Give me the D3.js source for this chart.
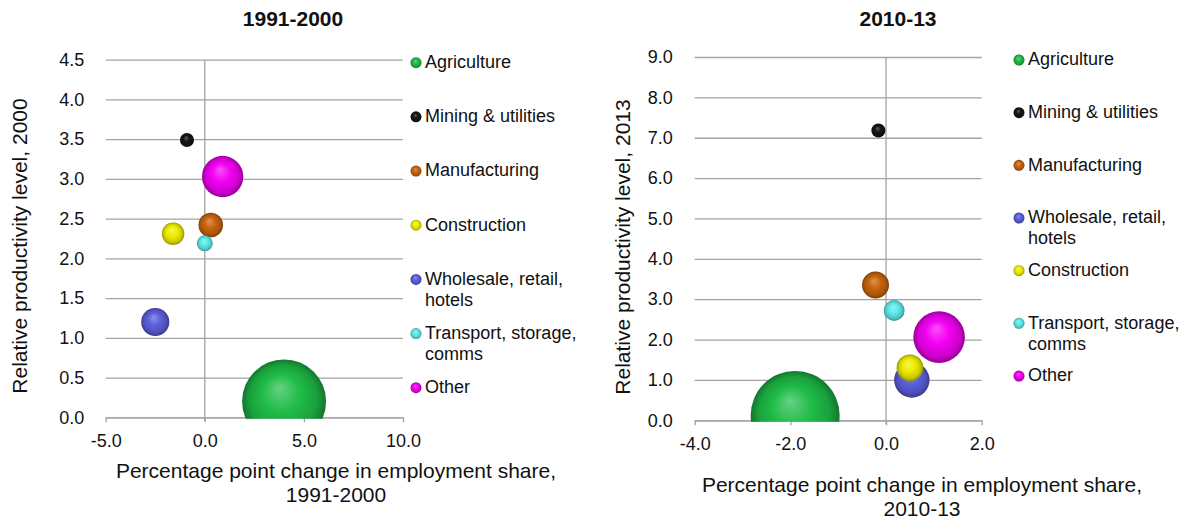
<!DOCTYPE html>
<html>
<head>
<meta charset="utf-8">
<script src="https://cdn.jsdelivr.net/npm/d3@7"></script>
<style>
  html, body { margin: 0; padding: 0; background: #fff; }
  svg { display: block; }
  text { font-family: "Liberation Sans", Arial, sans-serif; fill: #111; }
</style>
</head>
<body>
<svg id="chart" width="1192" height="519"></svg>
<script>
// ---------------- DATA ----------------
const sectors = ["Agriculture", "Mining & utilities", "Manufacturing", "Construction",
                 "Wholesale, retail, hotels", "Transport, storage, comms", "Other"];
const sectorColors = ["#1fbc48", "#141414", "#c8640e", "#eeee00", "#5b5fdc", "#5eeaea", "#f400f4"];

// Panel 1: 1991-2000
const change1991 = [4.0, -0.9, 0.3, -1.6, -2.5, 0.0, 0.9];
const level2000 = [0.2, 3.49, 2.42, 2.31, 1.2, 2.19, 3.03];
const size1991 = [50, 1.4, 4.3, 3.6, 5.6, 1.8, 12.1];
const order1991 = ["Agriculture", "Mining & utilities", "Manufacturing", "Construction",
                   "Wholesale, retail, hotels", "Transport, storage, comms", "Other"];
const xTicks1991 = [-5, 0, 5, 10];
const yTicks2000 = [0, 0.5, 1, 1.5, 2, 2.5, 3, 3.5, 4, 4.5];

// Panel 2: 2010-13
const change2010 = [-1.9, -0.16, -0.22, 0.5, 0.54, 0.17, 1.11];
const level2013 = [0.12, 7.18, 3.35, 1.3, 1.0, 2.72, 2.06];
const size2010 = [31, 0.77, 2.85, 2.8, 4.9, 1.7, 10.4];
const order2010 = ["Agriculture", "Mining & utilities", "Manufacturing",
                   "Wholesale, retail, hotels", "Construction", "Transport, storage, comms", "Other"];
const xTicks2010 = [-4, -2, 0, 2];
const yTicks2013 = [0, 1, 2, 3, 4, 5, 6, 7, 8, 9];

// ---------------- DRAWING ----------------
const svg = d3.select("#chart");
const defs = svg.append("defs");
const locale = d3.formatLocale({ decimal: ".", thousands: ",", grouping: [3], currency: ["", ""], minus: "-" });
const fmt = locale.format(".1f");
const gridColor = "#a3a3a3";

// sphere-like gradients
sectors.forEach((s, i) => {
  const base = d3.rgb(sectorColors[i]);
  const hi = d3.interpolateRgb(base, "#ffffff")(0.32);
  const g = defs.append("radialGradient")
    .attr("id", "grad" + i)
    .attr("cx", "50%").attr("cy", "50%").attr("r", "50%")
    .attr("fx", "44%").attr("fy", "33%");
  g.append("stop").attr("offset", "0%").attr("stop-color", hi);
  g.append("stop").attr("offset", "45%").attr("stop-color", base.formatHex());
  g.append("stop").attr("offset", "80%").attr("stop-color", base.darker(0.45).formatHex());
  g.append("stop").attr("offset", "100%").attr("stop-color", base.darker(1.3).formatHex());
});

function wrapText(textSel, maxW) {
  textSel.each(function () {
    const t = d3.select(this);
    const words = t.text().split(/\s+/);
    const x = t.attr("x");
    t.text(null);
    let line = [];
    let tspan = t.append("tspan").attr("x", x).attr("dy", "0.35em");
    words.forEach(w => {
      line.push(w);
      tspan.text(line.join(" "));
      if (tspan.node().getComputedTextLength() > maxW && line.length > 1) {
        line.pop();
        tspan.text(line.join(" "));
        line = [w];
        tspan = t.append("tspan").attr("x", x).attr("dy", "21px").text(w);
      }
    });
  });
}

function drawPanel(cfg) {
  const x = d3.scaleLinear().domain(cfg.xDomain).range(cfg.xRange);
  const y = d3.scaleLinear().domain(cfg.yDomain).range(cfg.yRange);
  const r = d3.scaleSqrt().domain([0, d3.max(cfg.size)]).range([0, cfg.maxR]);
  const g = svg.append("g");

  // title
  g.append("text").attr("x", cfg.titleX).attr("y", cfg.titleY)
    .attr("text-anchor", "middle").attr("font-size", 21).attr("font-weight", "bold")
    .text(cfg.title);

  // gridlines
  const grid = g.append("g").attr("transform", `translate(${cfg.xRange[0]},0)`)
    .call(d3.axisRight(y).tickValues(cfg.yTicks).tickSize(cfg.xRange[1] - cfg.xRange[0]).tickFormat(""));
  grid.select(".domain").remove();
  grid.selectAll("line").attr("stroke", gridColor).attr("stroke-width", 1.3);

  // y tick labels
  const ya = g.append("g").attr("transform", `translate(${cfg.xRange[0]},0)`)
    .call(d3.axisLeft(y).tickValues(cfg.yTicks).tickSize(0).tickPadding(cfg.yPad).tickFormat(fmt));
  ya.select(".domain").remove();
  ya.selectAll("text").attr("font-size", 18).attr("font-family", null).attr("fill", "#111");

  // vertical zero line
  g.append("line")
    .attr("x1", x(0)).attr("x2", x(0))
    .attr("y1", cfg.yRange[1]).attr("y2", cfg.yRange[0] + 4)
    .attr("stroke", gridColor).attr("stroke-width", 1.3);

  // x axis
  const xa = g.append("g").attr("transform", `translate(0,${y(0)})`)
    .call(d3.axisBottom(x).tickValues(cfg.xTicks).tickSize(5).tickSizeOuter(0).tickPadding(cfg.xPad).tickFormat(fmt));
  xa.select(".domain").attr("stroke", gridColor).attr("stroke-width", 1.3);
  xa.selectAll("line").attr("stroke", gridColor).attr("stroke-width", 1.3);
  xa.selectAll("text").attr("font-size", 18).attr("font-family", null).attr("fill", "#111");

  // clip
  const clipId = "clip" + cfg.id;
  defs.append("clipPath").attr("id", clipId).append("rect")
    .attr("x", cfg.xRange[0] - 60).attr("y", cfg.yRange[1] - 60)
    .attr("width", cfg.xRange[1] - cfg.xRange[0] + 120)
    .attr("height", cfg.yRange[0] - cfg.yRange[1] + 61.5);

  // bubbles
  const pts = cfg.order.map(name => {
    const i = sectors.indexOf(name);
    return { i, x: cfg.xv[i], y: cfg.yv[i], s: cfg.size[i] };
  });
  g.append("g").attr("clip-path", `url(#${clipId})`)
    .selectAll("circle").data(pts).join("circle")
    .attr("cx", d => x(d.x)).attr("cy", d => y(d.y)).attr("r", d => r(d.s))
    .attr("fill", d => `url(#grad${d.i})`);

  // axis titles
  g.append("text")
    .attr("transform", `translate(${cfg.yTitleX},${cfg.yTitleY}) rotate(-90)`)
    .attr("text-anchor", "middle").attr("font-size", 21)
    .text(cfg.yTitle);
  cfg.xTitle.forEach((t, k) => {
    g.append("text").attr("x", cfg.xTitleX).attr("y", cfg.xTitleY + k * 24)
      .attr("text-anchor", "middle").attr("font-size", 21).text(t);
  });

  // legend
  const lg = g.append("g");
  cfg.order.forEach((name, k) => {
    const i = sectors.indexOf(name);
    const cy = cfg.legendTop + k * cfg.legendStep;
    lg.append("circle").attr("cx", cfg.legendX).attr("cy", cy + 1).attr("r", 5.5)
      .attr("fill", `url(#grad${i})`);
    lg.append("text").attr("x", cfg.legendX + 9).attr("y", cy)
      .attr("font-size", 18).text(name)
      .call(wrapText, cfg.legendW);
  });
}

drawPanel({
  id: 1, title: "1991-2000", titleX: 293, titleY: 26,
  xv: change1991, yv: level2000, size: size1991, order: order1991,
  xDomain: [-5, 10], xRange: [105.7, 403], xTicks: xTicks1991,
  yDomain: [0, 4.5], yRange: [417.3, 59.7], yTicks: yTicks2000,
  maxR: 42, yPad: 21.5, xPad: 12,
  yTitle: "Relative productivity level, 2000", yTitleX: 27, yTitleY: 246,
  xTitle: ["Percentage point change in employment share,", "1991-2000"],
  xTitleX: 336, xTitleY: 478,
  legendX: 416, legendTop: 61.7, legendStep: 54.17, legendW: 168
});

drawPanel({
  id: 2, title: "2010-13", titleX: 898, titleY: 26,
  xv: change2010, yv: level2013, size: size2010, order: order2010,
  xDomain: [-4, 2], xRange: [694.7, 981.7], xTicks: xTicks2010,
  yDomain: [0, 9], yRange: [420.3, 57], yTicks: yTicks2013,
  maxR: 44.5, yPad: 22, xPad: 12,
  yTitle: "Relative productivity level, 2013", yTitleX: 630, yTitleY: 247,
  xTitle: ["Percentage point change in employment share,", "2010-13"],
  xTitleX: 922, xTitleY: 492,
  legendX: 1019, legendTop: 59, legendStep: 52.67, legendW: 168
});
</script>
</body>
</html>
